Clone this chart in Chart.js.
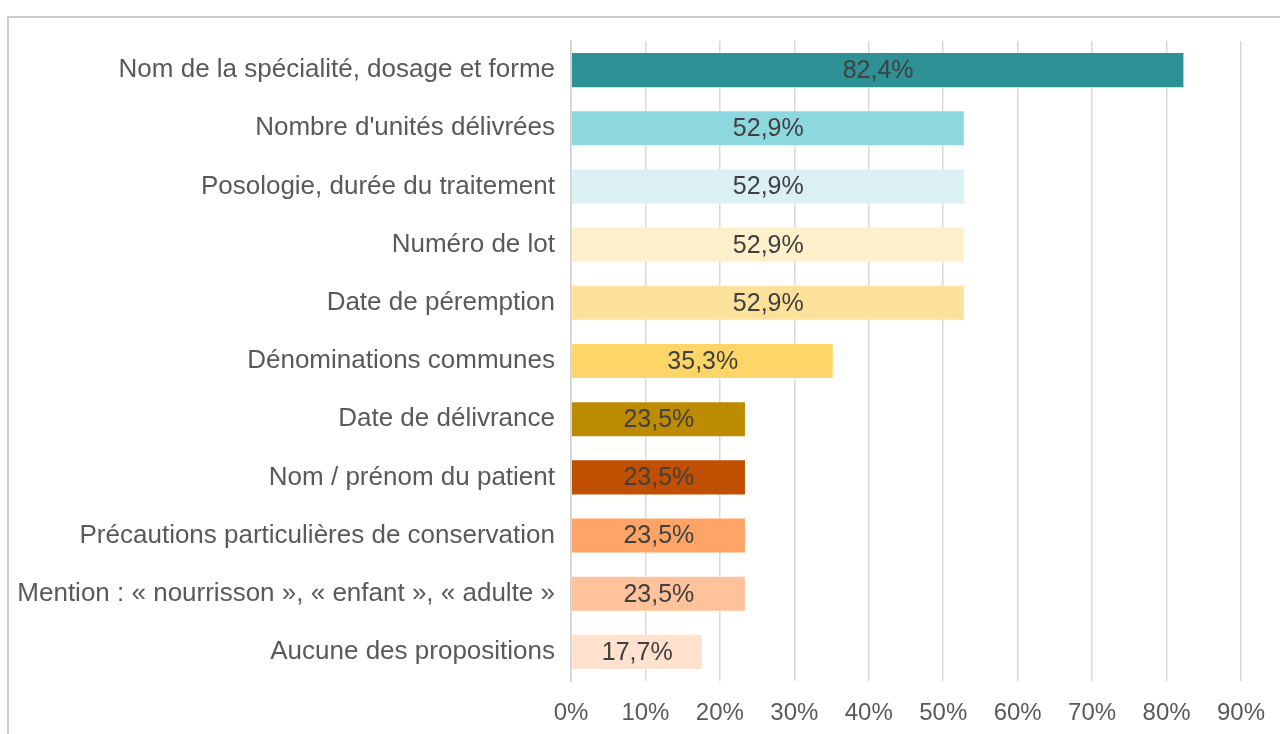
<!DOCTYPE html>
<html>
<head>
<meta charset="utf-8">
<script src="https://cdn.jsdelivr.net/npm/chart.js@4"></script>
<style>
  html, body { margin: 0; padding: 0; background: #fff; overflow: hidden; }
  #frame { position: absolute; left: 7px; top: 16px; width: 1400px; height: 900px;
           border-top: 2px solid #cccccc; border-left: 2px solid #cccccc; }
  #wrap { position: absolute; left: 0; top: 0; width: 1280px; height: 734px; }
</style>
</head>
<body>
<div id="frame"></div>
<div id="wrap"><canvas id="chart"></canvas></div>
<script>
const categories = [
  'Nom de la spécialité, dosage et forme',
  "Nombre d'unités délivrées",
  'Posologie, durée du traitement',
  'Numéro de lot',
  'Date de péremption',
  'Dénominations communes',
  'Date de délivrance',
  'Nom / prénom du patient',
  'Précautions particulières de conservation',
  'Mention : « nourrisson », « enfant », « adulte »',
  'Aucune des propositions'
];
const values = [82.4, 52.9, 52.9, 52.9, 52.9, 35.3, 23.5, 23.5, 23.5, 23.5, 17.7];
const barColors = [
  '#2E9196', '#8DD7DF', '#DAF0F2', '#FFF0CC', '#FCE19B', '#FED667',
  '#BD8B00', '#C05000', '#FFA466', '#FFC29A', '#FFE1CD'
];
const xTicks = [0, 10, 20, 30, 40, 50, 60, 70, 80, 90];

function pct(v) {
  return v.toFixed(1).replace('.', ',') + '%';
}

// étiquettes de valeur au centre des barres
const valueLabels = {
  id: 'valueLabels',
  afterDatasetsDraw(chart) {
    const ctx = chart.ctx;
    const meta = chart.getDatasetMeta(0);
    ctx.save();
    ctx.font = '25px "Liberation Sans", Arial, sans-serif';
    ctx.fillStyle = '#404040';
    ctx.textAlign = 'center';
    ctx.textBaseline = 'middle';
    meta.data.forEach((bar, i) => {
      const cx = (bar.x + bar.base) / 2;
      ctx.fillText(pct(values[i]), cx, bar.y + 1);
    });
    ctx.restore();
  }
};

new Chart(document.getElementById('chart'), {
  type: 'bar',
  data: {
    labels: categories,
    datasets: [{
      data: values,
      backgroundColor: barColors,
      borderColor: 'rgba(255,255,255,0.45)',
      borderWidth: 1,
      barPercentage: 0.62,
      categoryPercentage: 1
    }]
  },
  plugins: [valueLabels],
  options: {
    indexAxis: 'y',
    responsive: true,
    maintainAspectRatio: false,
    animation: false,
    layout: { padding: { top: 41, right: 39, bottom: 0, left: 0 } },
    plugins: {
      legend: { display: false },
      tooltip: { enabled: false }
    },
    scales: {
      x: {
        min: 0,
        max: 90,
        afterBuildTicks(scale) {
          scale.ticks = xTicks.map(v => ({ value: v }));
        },
        afterFit(scale) {
          scale.height = 53;
          scale.paddingRight = 0;
        },
        grid: { color: '#d9d9d9', lineWidth: 1.5, drawTicks: false },
        border: { display: false },
        ticks: {
          padding: 18,
          color: '#595959',
          font: { family: '"Liberation Sans", Arial, sans-serif', size: 24 },
          callback: v => v + '%'
        }
      },
      y: {
        afterFit(scale) { scale.width = 571; },
        grid: { display: false, drawTicks: false },
        border: { display: true, color: '#d0d0d0', width: 1.5 },
        ticks: {
          padding: 16,
          color: '#595959',
          font: { family: '"Liberation Sans", Arial, sans-serif', size: 26 }
        }
      }
    }
  }
});
</script>
</body>
</html>
